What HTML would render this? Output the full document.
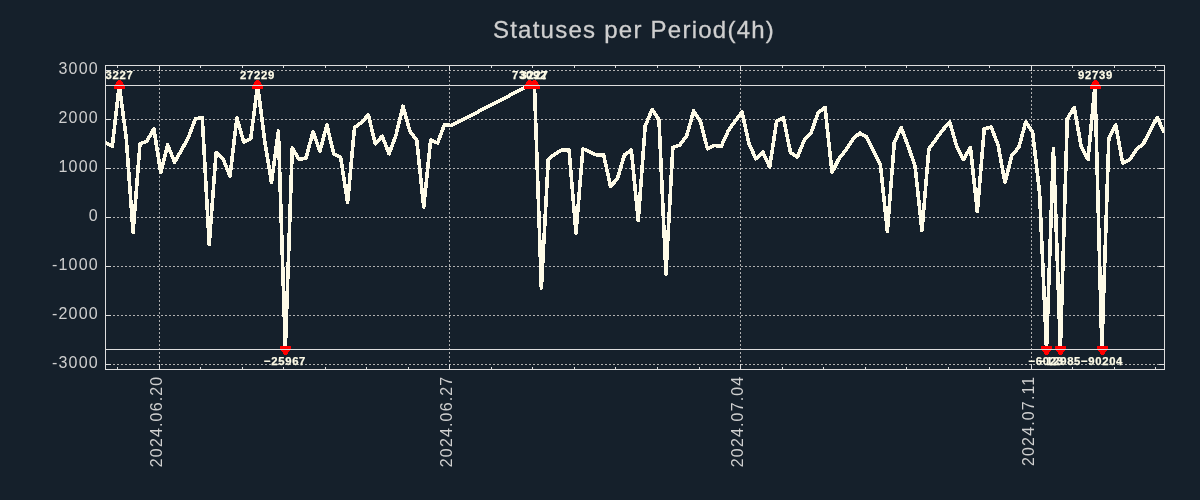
<!DOCTYPE html>
<html><head><meta charset="utf-8"><title>Statuses per Period(4h)</title>
<style>
html,body{margin:0;padding:0;background:#15202b;}
body{width:1200px;height:500px;overflow:hidden;position:relative;font-family:"Liberation Sans",sans-serif;}
svg{position:absolute;left:0;top:0;display:block;will-change:transform;}
.t{font-family:"Liberation Sans",sans-serif;}
</style></head><body>
<svg width="1200" height="500" viewBox="0 0 1200 500">
<rect x="0" y="0" width="1200" height="500" fill="#15202b"/>
<text class="t" x="634" y="37.8" text-anchor="middle" font-size="24" fill="#cfcfcf" stroke="#cfcfcf" stroke-width="0.3" letter-spacing="1.25">Statuses per Period(4h)</text>
<defs><clipPath id="ax"><rect x="105" y="65" width="1060" height="305"/></clipPath></defs>
<g shape-rendering="crispEdges" stroke="#b0b0b0" stroke-width="1" stroke-dasharray="2 2" fill="none">
<line x1="105" y1="70.5" x2="1165" y2="70.5"/>
<line x1="105" y1="119.5" x2="1165" y2="119.5"/>
<line x1="105" y1="168.5" x2="1165" y2="168.5"/>
<line x1="105" y1="217.5" x2="1165" y2="217.5"/>
<line x1="105" y1="266.5" x2="1165" y2="266.5"/>
<line x1="105" y1="315.5" x2="1165" y2="315.5"/>
<line x1="105" y1="364.5" x2="1165" y2="364.5"/>
<line x1="159.5" y1="370" x2="159.5" y2="65"/>
<line x1="449.5" y1="370" x2="449.5" y2="65"/>
<line x1="740.5" y1="370" x2="740.5" y2="65"/>
<line x1="1031.5" y1="370" x2="1031.5" y2="65"/>
</g>
<g shape-rendering="crispEdges" stroke="#dedede" stroke-width="1" fill="none">
<line x1="159.5" y1="364" x2="159.5" y2="370"/><line x1="159.5" y1="65" x2="159.5" y2="71"/>
<line x1="449.5" y1="364" x2="449.5" y2="370"/><line x1="449.5" y1="65" x2="449.5" y2="71"/>
<line x1="740.5" y1="364" x2="740.5" y2="370"/><line x1="740.5" y1="65" x2="740.5" y2="71"/>
<line x1="1031.5" y1="364" x2="1031.5" y2="370"/><line x1="1031.5" y1="65" x2="1031.5" y2="71"/>
<line x1="117.5" y1="367" x2="117.5" y2="370"/><line x1="117.5" y1="65" x2="117.5" y2="68"/>
<line x1="200.5" y1="367" x2="200.5" y2="370"/><line x1="200.5" y1="65" x2="200.5" y2="68"/>
<line x1="242.5" y1="367" x2="242.5" y2="370"/><line x1="242.5" y1="65" x2="242.5" y2="68"/>
<line x1="283.5" y1="367" x2="283.5" y2="370"/><line x1="283.5" y1="65" x2="283.5" y2="68"/>
<line x1="325.5" y1="367" x2="325.5" y2="370"/><line x1="325.5" y1="65" x2="325.5" y2="68"/>
<line x1="366.5" y1="367" x2="366.5" y2="370"/><line x1="366.5" y1="65" x2="366.5" y2="68"/>
<line x1="408.5" y1="367" x2="408.5" y2="370"/><line x1="408.5" y1="65" x2="408.5" y2="68"/>
<line x1="491.5" y1="367" x2="491.5" y2="370"/><line x1="491.5" y1="65" x2="491.5" y2="68"/>
<line x1="532.5" y1="367" x2="532.5" y2="370"/><line x1="532.5" y1="65" x2="532.5" y2="68"/>
<line x1="574.5" y1="367" x2="574.5" y2="370"/><line x1="574.5" y1="65" x2="574.5" y2="68"/>
<line x1="615.5" y1="367" x2="615.5" y2="370"/><line x1="615.5" y1="65" x2="615.5" y2="68"/>
<line x1="657.5" y1="367" x2="657.5" y2="370"/><line x1="657.5" y1="65" x2="657.5" y2="68"/>
<line x1="699.5" y1="367" x2="699.5" y2="370"/><line x1="699.5" y1="65" x2="699.5" y2="68"/>
<line x1="782.5" y1="367" x2="782.5" y2="370"/><line x1="782.5" y1="65" x2="782.5" y2="68"/>
<line x1="823.5" y1="367" x2="823.5" y2="370"/><line x1="823.5" y1="65" x2="823.5" y2="68"/>
<line x1="865.5" y1="367" x2="865.5" y2="370"/><line x1="865.5" y1="65" x2="865.5" y2="68"/>
<line x1="906.5" y1="367" x2="906.5" y2="370"/><line x1="906.5" y1="65" x2="906.5" y2="68"/>
<line x1="948.5" y1="367" x2="948.5" y2="370"/><line x1="948.5" y1="65" x2="948.5" y2="68"/>
<line x1="989.5" y1="367" x2="989.5" y2="370"/><line x1="989.5" y1="65" x2="989.5" y2="68"/>
<line x1="1072.5" y1="367" x2="1072.5" y2="370"/><line x1="1072.5" y1="65" x2="1072.5" y2="68"/>
<line x1="1114.5" y1="367" x2="1114.5" y2="370"/><line x1="1114.5" y1="65" x2="1114.5" y2="68"/>
<line x1="1155.5" y1="367" x2="1155.5" y2="370"/><line x1="1155.5" y1="65" x2="1155.5" y2="68"/>
<line x1="105" y1="70.5" x2="111" y2="70.5"/><line x1="1159" y1="70.5" x2="1165" y2="70.5"/>
<line x1="105" y1="119.5" x2="111" y2="119.5"/><line x1="1159" y1="119.5" x2="1165" y2="119.5"/>
<line x1="105" y1="168.5" x2="111" y2="168.5"/><line x1="1159" y1="168.5" x2="1165" y2="168.5"/>
<line x1="105" y1="217.5" x2="111" y2="217.5"/><line x1="1159" y1="217.5" x2="1165" y2="217.5"/>
<line x1="105" y1="266.5" x2="111" y2="266.5"/><line x1="1159" y1="266.5" x2="1165" y2="266.5"/>
<line x1="105" y1="315.5" x2="111" y2="315.5"/><line x1="1159" y1="315.5" x2="1165" y2="315.5"/>
<line x1="105" y1="364.5" x2="111" y2="364.5"/><line x1="1159" y1="364.5" x2="1165" y2="364.5"/>
</g>
<g fill="#ff0000" shape-rendering="crispEdges" clip-path="url(#ax)">
<rect x="118" y="80" width="3" height="1"/><rect x="117" y="81" width="5" height="1"/><rect x="116" y="82" width="7" height="2"/><rect x="115" y="84" width="9" height="1"/><rect x="114" y="85" width="11" height="4"/>
<rect x="256" y="80" width="3" height="1"/><rect x="255" y="81" width="5" height="1"/><rect x="254" y="82" width="7" height="2"/><rect x="253" y="84" width="9" height="1"/><rect x="252" y="85" width="11" height="4"/>
<rect x="528" y="80" width="3" height="1"/><rect x="527" y="81" width="5" height="1"/><rect x="526" y="82" width="7" height="2"/><rect x="525" y="84" width="9" height="1"/><rect x="524" y="85" width="11" height="4"/>
<rect x="533" y="80" width="3" height="1"/><rect x="532" y="81" width="5" height="1"/><rect x="531" y="82" width="7" height="2"/><rect x="530" y="84" width="9" height="1"/><rect x="529" y="85" width="11" height="4"/>
<rect x="1094" y="80" width="3" height="1"/><rect x="1093" y="81" width="5" height="1"/><rect x="1092" y="82" width="7" height="2"/><rect x="1091" y="84" width="9" height="1"/><rect x="1090" y="85" width="11" height="4"/>
<rect x="280" y="346" width="11" height="4"/><rect x="281" y="350" width="9" height="1"/><rect x="282" y="351" width="7" height="1"/><rect x="283" y="352" width="5" height="2"/><rect x="284" y="354" width="3" height="1"/>
<rect x="1041" y="346" width="11" height="4"/><rect x="1042" y="350" width="9" height="1"/><rect x="1043" y="351" width="7" height="1"/><rect x="1044" y="352" width="5" height="2"/><rect x="1045" y="354" width="3" height="1"/>
<rect x="1055" y="346" width="11" height="4"/><rect x="1056" y="350" width="9" height="1"/><rect x="1057" y="351" width="7" height="1"/><rect x="1058" y="352" width="5" height="2"/><rect x="1059" y="354" width="3" height="1"/>
<rect x="1097" y="346" width="11" height="4"/><rect x="1098" y="350" width="9" height="1"/><rect x="1099" y="351" width="7" height="1"/><rect x="1100" y="352" width="5" height="2"/><rect x="1101" y="354" width="3" height="1"/>
</g>
<g shape-rendering="crispEdges" stroke="#dedede" stroke-width="1">
<line x1="105" y1="85.5" x2="1165" y2="85.5"/><line x1="105" y1="349.5" x2="1165" y2="349.5"/>
</g>
<path d="M105.40,142.50 L112.32,146.25 L119.24,85.20 L126.16,137.00 L133.08,232.50 L140.00,143.75 L146.92,141.25 L153.84,128.75 L160.76,172.50 L167.68,145.00 L174.60,162.00 L181.52,150.00 L188.44,137.50 L195.36,118.75 L202.28,117.50 L209.20,244.50 L216.12,152.50 L223.04,158.75 L229.96,176.25 L236.88,118.00 L243.80,142.00 L250.72,138.75 L257.64,85.20 L264.56,140.00 L271.48,182.50 L278.40,131.00 L285.32,349.30 L292.24,148.00 L299.16,159.50 L306.08,158.00 L313.00,131.75 L319.92,151.25 L326.84,125.00 L333.76,153.75 L340.68,157.50 L347.60,202.50 L354.52,127.50 L361.44,122.50 L368.36,115.00 L375.28,143.75 L382.20,136.25 L389.12,153.75 L396.04,135.00 L402.96,106.25 L409.88,131.00 L416.80,140.50 L423.72,207.00 L430.64,140.00 L437.56,143.00 L444.48,124.50 L451.40,125.50 L529.50,85.20 L534.44,85.20 L541.36,288.00 L548.28,159.50 L555.20,153.75 L562.12,150.00 L569.04,150.00 L575.96,233.00 L582.88,148.75 L589.80,152.00 L596.72,155.00 L603.64,155.00 L610.56,186.50 L617.48,178.50 L624.40,155.00 L631.32,150.00 L638.24,220.50 L645.16,126.25 L652.08,109.50 L659.00,120.00 L665.92,274.00 L672.84,147.50 L679.76,145.00 L686.68,136.00 L693.60,111.00 L700.52,121.25 L707.44,148.75 L714.36,145.50 L721.28,146.25 L728.20,131.00 L735.12,121.00 L742.04,112.00 L748.96,143.75 L755.88,158.75 L762.80,152.00 L769.72,167.00 L776.64,121.00 L783.56,118.00 L790.48,152.50 L797.40,157.00 L804.32,140.00 L811.24,132.50 L818.16,112.50 L825.08,107.50 L832.00,172.50 L838.92,158.75 L845.84,150.00 L852.76,139.50 L859.68,133.00 L866.60,137.00 L873.52,151.00 L880.44,165.00 L887.36,231.50 L894.28,142.50 L901.20,127.50 L908.12,146.00 L915.04,166.00 L921.96,230.50 L928.88,148.75 L935.80,139.50 L942.72,130.00 L949.64,122.00 L956.56,146.00 L963.48,159.50 L970.40,147.50 L977.32,211.50 L984.24,128.75 L991.16,127.00 L998.08,145.00 L1005.00,182.50 L1011.92,155.00 L1018.84,147.50 L1025.76,122.00 L1032.68,132.50 L1039.60,193.00 L1046.52,349.30 L1053.44,148.50 L1060.36,349.30 L1067.28,118.75 L1074.20,107.50 L1081.12,146.00 L1088.04,159.50 L1094.96,85.20 L1101.88,349.30 L1108.80,138.75 L1115.72,125.00 L1122.64,163.00 L1129.56,160.00 L1136.48,149.50 L1143.40,143.75 L1150.32,130.00 L1157.24,117.50 L1164.16,132.50" fill="none" stroke="#fefbe7" stroke-width="3.6" stroke-linejoin="round" stroke-linecap="butt" clip-path="url(#ax)" shape-rendering="crispEdges"/>
<g fill="#ff0000" shape-rendering="crispEdges" clip-path="url(#ax)">
<rect x="118" y="80" width="3" height="1"/><rect x="117" y="81" width="5" height="1"/><rect x="116" y="82" width="7" height="2"/><rect x="115" y="84" width="9" height="1"/><rect x="114" y="85" width="11" height="4"/>
<rect x="256" y="80" width="3" height="1"/><rect x="255" y="81" width="5" height="1"/><rect x="254" y="82" width="7" height="2"/><rect x="253" y="84" width="9" height="1"/><rect x="252" y="85" width="11" height="4"/>
<rect x="528" y="80" width="3" height="1"/><rect x="527" y="81" width="5" height="1"/><rect x="526" y="82" width="7" height="2"/><rect x="525" y="84" width="9" height="1"/><rect x="524" y="85" width="11" height="4"/>
<rect x="533" y="80" width="3" height="1"/><rect x="532" y="81" width="5" height="1"/><rect x="531" y="82" width="7" height="2"/><rect x="530" y="84" width="9" height="1"/><rect x="529" y="85" width="11" height="4"/>
<rect x="1094" y="80" width="3" height="1"/><rect x="1093" y="81" width="5" height="1"/><rect x="1092" y="82" width="7" height="2"/><rect x="1091" y="84" width="9" height="1"/><rect x="1090" y="85" width="11" height="4"/>
<rect x="280" y="346" width="11" height="4"/><rect x="281" y="350" width="9" height="1"/><rect x="282" y="351" width="7" height="1"/><rect x="283" y="352" width="5" height="2"/><rect x="284" y="354" width="3" height="1"/>
<rect x="1041" y="346" width="11" height="4"/><rect x="1042" y="350" width="9" height="1"/><rect x="1043" y="351" width="7" height="1"/><rect x="1044" y="352" width="5" height="2"/><rect x="1045" y="354" width="3" height="1"/>
<rect x="1055" y="346" width="11" height="4"/><rect x="1056" y="350" width="9" height="1"/><rect x="1057" y="351" width="7" height="1"/><rect x="1058" y="352" width="5" height="2"/><rect x="1059" y="354" width="3" height="1"/>
<rect x="1097" y="346" width="11" height="4"/><rect x="1098" y="350" width="9" height="1"/><rect x="1099" y="351" width="7" height="1"/><rect x="1100" y="352" width="5" height="2"/><rect x="1101" y="354" width="3" height="1"/>
</g>
<g shape-rendering="crispEdges" stroke="#dedede" stroke-width="1">
<line x1="105" y1="85.5" x2="1165" y2="85.5"/><line x1="105" y1="349.5" x2="1165" y2="349.5"/>
</g>
<g class="t" font-size="11.3" font-weight="bold" fill="#fefbe7" stroke="#fefbe7" stroke-width="0.25" text-anchor="middle" letter-spacing="0.7" clip-path="url(#ax)">
<text x="119.5" y="78.5">3227</text>
<text x="257.5" y="78.5">27229</text>
<text x="529.5" y="78.5">73092</text>
<text x="534.5" y="78.5">3227</text>
<text x="1095.5" y="78.5">92739</text>
<text x="285.0" y="365">−25967</text>
<text x="1046.0" y="365">−6023</text>
<text x="1060.0" y="365">−12985</text>
<text x="1102.0" y="365">−90204</text>
</g>
<rect x="105.5" y="65.5" width="1059" height="304" fill="none" stroke="#dedede" stroke-width="1" shape-rendering="crispEdges"/>
<g class="t" font-size="16" fill="#cfcfcf" text-anchor="end" letter-spacing="1.2">
<text x="98.9" y="74.3">3000</text>
<text x="98.9" y="123.3">2000</text>
<text x="98.9" y="172.3">1000</text>
<text x="98.9" y="221.3">0</text>
<text x="98.9" y="270.3">-1000</text>
<text x="98.9" y="319.3">-2000</text>
<text x="98.9" y="368.3">-3000</text>
</g>
<g class="t" font-size="16" fill="#cfcfcf" text-anchor="end" letter-spacing="1.15">
<text transform="translate(162.2,375.6) rotate(-90)" x="0" y="0">2024.06.20</text>
<text transform="translate(452.2,375.6) rotate(-90)" x="0" y="0">2024.06.27</text>
<text transform="translate(743.2,375.6) rotate(-90)" x="0" y="0">2024.07.04</text>
<text transform="translate(1034.2,375.6) rotate(-90)" x="0" y="0">2024.07.11</text>
</g>
</svg>
</body></html>
